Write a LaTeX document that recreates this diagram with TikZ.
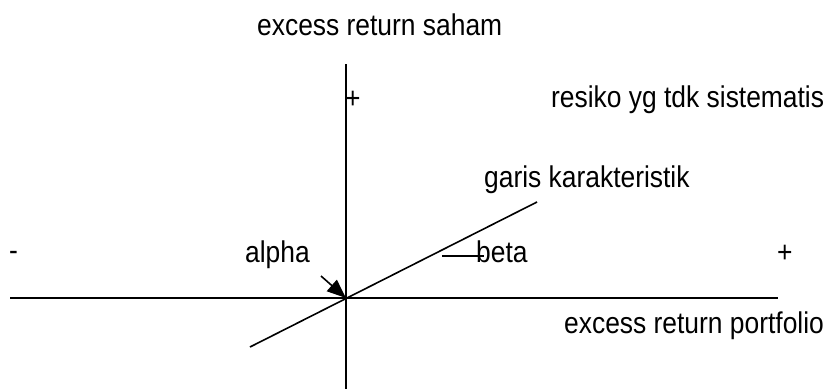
\documentclass[tikz,border=0pt]{standalone}
\usepackage{fontspec}
\setmainfont[FakeStretch=0.88]{Liberation Sans}
\usetikzlibrary{arrows.meta}
\begin{document}
\begin{tikzpicture}[x=1pt,y=-1pt,
  lbl/.style={anchor=base west,inner sep=0pt,font=\fontsize{30}{36}\selectfont},
  axis/.style={line width=1.8pt},
  thin line/.style={line width=1.6pt}]
\useasboundingbox (0,0) rectangle (832,389);
% axes
\coordinate (xl) at (10,298);
\coordinate (xr) at (778,298);
\coordinate (yt) at (346,64);
\coordinate (yb) at (346,389);
\coordinate (o) at (346,298);
\draw[axis] (xl) -- (xr);
\draw[axis] (yt) -- (yb);
% characteristic line
\coordinate (cl) at (250,347);
\coordinate (ch) at (537,202);
\draw[thin line] (cl) -- (ch);
% alpha arrow
\coordinate (as) at (321,276);
\draw[thin line,-{Triangle[length=19pt,width=15pt]}] (as) -- (o);
% beta line
\coordinate (b1) at (442,256);
\coordinate (b2) at (484,256);
\draw[line width=1.2pt] (b1) -- (b2);
% labels
\node[lbl] (saham) at (257,35) {excess return saham};
\node[lbl] (pt) at (345,108) {+};
\node[lbl] (resiko) at (551,107) {resiko yg tdk sistematis};
\node[lbl] (garis) at (484,187) {garis karakteristik};
\node[lbl] (minus) at (9,260) {-};
\node[lbl] (alpha) at (245,262) {alpha};
\node[lbl] (beta) at (476,262) {beta};
\node[lbl] (pr) at (777,262) {+};
\node[lbl] (port) at (564,333) {excess return portfolio};
\end{tikzpicture}
\end{document}
